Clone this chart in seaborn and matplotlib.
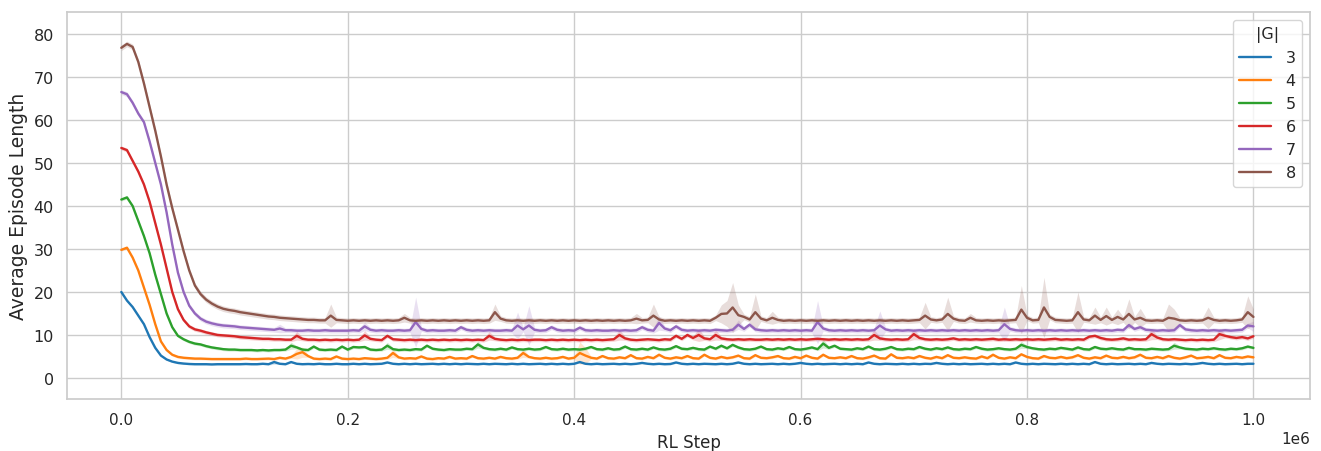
import numpy as np
import pandas as pd
import matplotlib
matplotlib.use("Agg")
import matplotlib.pyplot as plt
from matplotlib.lines import Line2D
import seaborn as sns

# RL training steps at which the episode length was logged
steps = np.arange(0, 1_000_001, 5000)

group_sizes = ["3", "4", "5", "6", "7", "8"]

# Mean episode length per goal-set size |G|
len_g3 = [
    20.0, 18.0, 16.5, 14.5, 12.5, 9.5, 7.0, 5.2, 4.3, 3.8, 3.5, 3.35, 3.25, 3.2, 3.2, 3.2, 3.15, 3.2, 3.2, 3.2,
    3.2, 3.2, 3.25, 3.2, 3.2, 3.3, 3.2, 3.7, 3.3, 3.2, 3.7, 3.3, 3.2, 3.25, 3.2, 3.3, 3.2, 3.2, 3.3, 3.2,
    3.2, 3.3, 3.2, 3.3, 3.2, 3.25, 3.3, 3.6, 3.3, 3.2, 3.3, 3.2, 3.3, 3.2, 3.25, 3.3, 3.2, 3.3, 3.2, 3.3,
    3.2, 3.3, 3.25, 3.2, 3.3, 3.2, 3.3, 3.25, 3.2, 3.3, 3.2, 3.3, 3.2, 3.25, 3.3, 3.2, 3.3, 3.2, 3.3, 3.2,
    3.3, 3.7, 3.3, 3.2, 3.3, 3.2, 3.25, 3.3, 3.2, 3.3, 3.2, 3.3, 3.5, 3.3, 3.2, 3.3, 3.2, 3.25, 3.6, 3.3,
    3.2, 3.3, 3.2, 3.3, 3.25, 3.2, 3.3, 3.2, 3.3, 3.6, 3.3, 3.2, 3.3, 3.2, 3.25, 3.3, 3.2, 3.3, 3.2, 3.3,
    3.5, 3.3, 3.2, 3.3, 3.2, 3.25, 3.3, 3.2, 3.3, 3.2, 3.3, 3.2, 3.6, 3.3, 3.2, 3.3, 3.25, 3.2, 3.3, 3.2,
    3.3, 3.2, 3.3, 3.25, 3.5, 3.3, 3.2, 3.3, 3.2, 3.3, 3.2, 3.25, 3.3, 3.2, 3.3, 3.2, 3.3, 3.2, 3.6, 3.3,
    3.2, 3.3, 3.2, 3.3, 3.25, 3.2, 3.3, 3.2, 3.3, 3.2, 3.3, 3.2, 3.7, 3.3, 3.2, 3.3, 3.2, 3.25, 3.3, 3.2,
    3.3, 3.2, 3.5, 3.3, 3.2, 3.3, 3.25, 3.2, 3.3, 3.2, 3.3, 3.5, 3.3, 3.2, 3.3, 3.2, 3.25, 3.3, 3.2, 3.3,
    3.3,
]
len_g4 = [
    29.8, 30.3, 28.0, 25.0, 21.0, 17.0, 12.5, 8.5, 6.5, 5.4, 4.9, 4.7, 4.6, 4.5, 4.5, 4.45, 4.4, 4.4, 4.4, 4.4,
    4.4, 4.4, 4.5, 4.4, 4.4, 4.45, 4.5, 4.4, 4.7, 4.5, 4.9, 5.6, 6.0, 5.1, 4.5, 4.4, 4.5, 4.4, 5.0, 4.5,
    4.4, 4.5, 4.4, 4.6, 4.5, 4.4, 4.5, 4.7, 5.8, 4.8, 4.5, 4.6, 4.5, 5.0, 4.5, 4.4, 4.6, 4.5, 4.9, 4.5,
    4.6, 4.5, 5.1, 4.6, 4.5, 4.7, 4.5, 4.9, 4.6, 4.5, 4.7, 5.8, 4.9, 4.6, 4.5, 4.7, 4.5, 4.6, 4.9, 4.5,
    4.7, 5.8, 5.2, 4.7, 4.5, 5.1, 4.6, 4.5, 4.8, 4.6, 5.3, 4.6, 4.5, 4.9, 4.6, 5.4, 4.7, 4.5, 4.8, 4.6,
    5.1, 4.6, 4.5, 5.4, 4.7, 4.5, 4.9, 4.6, 4.8, 5.2, 4.6, 4.5, 5.3, 4.7, 4.6, 4.8, 5.1, 4.6, 4.5, 4.9,
    4.6, 5.2, 4.7, 4.5, 5.4, 4.7, 4.6, 4.8, 4.6, 5.1, 4.6, 4.5, 4.8, 5.2, 4.6, 4.5, 5.5, 4.7, 4.6, 4.8,
    4.6, 5.1, 4.7, 4.5, 4.9, 4.6, 5.3, 4.7, 4.6, 4.8, 4.6, 4.5, 5.0, 4.6, 5.4, 4.7, 4.5, 4.8, 4.6, 5.5,
    4.9, 4.6, 4.5, 5.1, 4.7, 4.6, 4.9, 4.6, 4.8, 5.3, 4.7, 4.5, 4.8, 4.6, 5.2, 4.7, 4.6, 4.9, 4.6, 4.8,
    5.4, 4.7, 4.6, 4.9, 4.6, 5.1, 4.7, 4.5, 4.8, 5.2, 4.6, 4.7, 4.9, 4.6, 5.3, 4.7, 4.6, 4.9, 4.7, 5.0,
    4.8,
]
len_g5 = [
    41.5, 42.0, 40.0, 36.5, 33.0, 29.0, 24.0, 19.5, 15.0, 11.8, 9.8, 9.0, 8.4, 8.0, 7.8, 7.4, 7.1, 6.9, 6.7, 6.6,
    6.6, 6.5, 6.5, 6.5, 6.4, 6.5, 6.4, 6.5, 6.5, 6.6, 7.5, 7.1, 6.6, 6.5, 7.3, 6.6, 6.5, 6.6, 6.5, 7.3,
    6.6, 7.2, 7.1, 7.2, 6.6, 6.5, 6.6, 7.5, 6.7, 6.5, 6.6, 6.5, 6.7, 6.6, 7.5, 6.8, 6.6, 6.5, 6.7, 6.6,
    6.6, 6.8, 6.7, 7.8, 7.0, 6.7, 6.6, 6.8, 6.6, 7.1, 6.7, 6.6, 6.8, 6.6, 6.7, 7.2, 6.7, 6.6, 6.8, 6.6,
    6.7, 6.6, 6.8, 7.2, 6.7, 6.6, 6.9, 6.6, 6.7, 7.3, 6.7, 6.6, 6.8, 6.6, 7.1, 6.7, 6.6, 6.8, 7.4, 6.8,
    6.7, 7.0, 6.7, 6.6, 7.3, 6.8, 7.5, 6.9, 7.7, 7.1, 6.7, 6.6, 6.8, 7.3, 6.7, 6.6, 6.9, 6.7, 7.2, 6.7,
    6.6, 6.8, 7.1, 6.7, 8.0, 7.0, 7.5, 6.8, 6.7, 6.6, 6.9, 6.7, 7.3, 6.7, 6.6, 6.8, 7.2, 6.7, 6.6, 6.8,
    6.7, 7.2, 6.8, 6.6, 6.9, 6.7, 7.1, 6.7, 6.6, 6.8, 6.7, 7.2, 6.8, 6.6, 6.7, 6.9, 6.7, 6.6, 6.8, 7.7,
    7.2, 6.9, 6.7, 6.6, 6.8, 6.7, 7.0, 6.8, 6.6, 7.1, 6.7, 6.6, 7.2, 6.8, 6.7, 6.9, 6.7, 6.6, 7.0, 6.7,
    6.7, 6.6, 6.8, 6.7, 6.6, 6.7, 7.5, 7.1, 6.8, 6.7, 6.6, 6.8, 6.7, 6.9, 6.7, 6.6, 6.8, 6.7, 6.9, 7.3,
    7.0,
]
len_g6 = [
    53.5, 53.0, 50.5, 48.0, 45.0, 41.0, 36.0, 31.0, 25.5, 20.0, 16.0, 13.5, 12.0, 11.3, 11.0, 10.6, 10.3, 10.0, 9.9, 9.8,
    9.7, 9.5, 9.4, 9.3, 9.2, 9.1, 9.1, 9.0, 9.0, 8.9, 8.9, 9.8, 9.1, 8.9, 8.9, 8.8, 8.9, 8.8, 8.9, 8.8,
    8.9, 8.8, 8.9, 9.9, 9.1, 8.9, 8.8, 9.8, 9.0, 8.9, 8.8, 8.9, 8.8, 8.9, 8.8, 8.9, 8.8, 8.9, 8.8, 8.9,
    8.8, 8.9, 8.8, 8.9, 8.8, 9.8, 9.1, 8.9, 8.8, 8.9, 8.8, 8.9, 8.8, 8.9, 8.9, 8.8, 8.9, 8.8, 8.9, 8.8,
    8.9, 8.8, 8.9, 8.8, 8.9, 8.8, 8.9, 9.0, 10.0, 9.2, 8.9, 8.8, 8.9, 9.0, 8.9, 8.8, 9.0, 8.9, 9.8, 9.1,
    10.0, 9.3, 10.0, 9.2, 9.0, 10.0, 9.2, 9.0, 8.9, 9.0, 8.9, 9.0, 8.9, 8.9, 9.0, 8.9, 9.0, 8.9, 9.0, 8.9,
    9.0, 8.9, 9.0, 9.1, 9.0, 8.9, 9.0, 8.9, 9.0, 8.9, 9.0, 8.9, 9.0, 10.0, 9.2, 9.0, 8.9, 9.0, 8.9, 9.0,
    10.2, 9.3, 9.0, 8.9, 9.0, 8.9, 9.0, 9.2, 8.9, 9.0, 8.9, 9.0, 8.9, 9.0, 9.1, 8.9, 9.0, 8.9, 9.0, 8.9,
    9.0, 8.9, 9.0, 8.9, 9.0, 9.1, 8.9, 9.0, 8.9, 9.0, 8.9, 9.6, 9.8, 9.3, 9.0, 8.9, 9.0, 9.2, 8.9, 9.0,
    8.9, 9.0, 10.2, 9.4, 9.0, 8.9, 9.0, 8.9, 8.8, 8.9, 8.8, 8.9, 8.8, 8.9, 10.2, 9.8, 9.5, 9.3, 9.5, 9.2,
    9.7,
]
len_g7 = [
    66.5, 66.0, 64.0, 61.5, 59.5, 55.0, 50.0, 45.0, 38.5, 31.0, 24.5, 20.0, 16.8, 15.0, 13.8, 13.1, 12.7, 12.4, 12.2, 12.1,
    12.0, 11.8, 11.7, 11.6, 11.5, 11.4, 11.3, 11.2, 11.5, 11.1, 11.1, 11.0, 11.0, 11.1, 11.0, 11.0, 11.1, 11.0, 11.0, 11.0,
    11.0, 11.1, 11.0, 12.0, 11.2, 11.0, 11.1, 11.0, 11.0, 11.1, 11.0, 11.1, 13.0, 11.4, 11.0, 11.1, 11.0, 11.0, 11.1, 11.0,
    11.8, 11.2, 11.0, 11.1, 11.0, 11.1, 11.0, 11.0, 11.1, 11.0, 12.2, 11.3, 12.2, 11.2, 11.0, 11.1, 11.8, 11.2, 11.0, 11.1,
    11.0, 11.7, 11.1, 11.0, 11.1, 11.0, 11.0, 11.1, 11.0, 11.1, 11.0, 11.1, 11.8, 11.2, 11.0, 12.8, 11.5, 11.1, 12.0, 11.2,
    11.0, 11.1, 11.0, 11.1, 11.0, 11.2, 11.1, 11.0, 11.2, 12.4, 11.4, 12.4, 11.3, 11.1, 11.0, 11.1, 11.0, 11.1, 11.0, 11.1,
    11.0, 11.1, 11.0, 13.0, 11.5, 11.1, 11.0, 11.1, 11.0, 11.1, 11.0, 11.1, 11.0, 11.1, 12.2, 11.3, 11.0, 11.1, 11.0, 11.1,
    11.0, 11.1, 11.0, 11.1, 11.0, 11.1, 11.0, 11.1, 11.0, 11.1, 11.0, 11.1, 11.0, 11.1, 11.0, 11.1, 12.5, 11.4, 11.1, 11.0,
    11.1, 11.0, 11.1, 11.0, 11.1, 11.0, 11.1, 11.0, 11.1, 11.0, 11.1, 11.0, 11.1, 11.0, 11.1, 11.0, 11.2, 11.1, 12.3, 11.4,
    11.8, 11.2, 11.1, 11.0, 11.1, 11.0, 11.1, 12.3, 11.3, 11.1, 11.0, 11.1, 11.0, 11.1, 11.0, 11.1, 11.0, 11.1, 11.2, 12.2,
    12.0,
]
len_g8 = [
    76.8, 77.7, 77.0, 73.5, 68.5, 63.0, 57.5, 51.5, 45.0, 39.5, 34.5, 29.5, 25.0, 21.5, 19.5, 18.2, 17.3, 16.6, 16.1, 15.8,
    15.6, 15.3, 15.1, 14.9, 14.7, 14.5, 14.3, 14.2, 14.0, 13.9, 13.8, 13.7, 13.6, 13.5, 13.5, 13.4, 13.4, 14.5, 13.5, 13.4,
    13.3, 13.4, 13.3, 13.4, 13.3, 13.4, 13.3, 13.4, 13.3, 13.4, 14.0, 13.4, 13.3, 13.4, 13.3, 13.4, 13.3, 13.4, 13.3, 13.4,
    13.3, 13.4, 13.3, 13.4, 13.3, 13.4, 15.3, 13.8, 13.4, 13.3, 13.4, 13.3, 13.4, 13.3, 13.4, 13.3, 13.4, 13.3, 13.4, 13.3,
    13.4, 13.3, 13.4, 13.3, 13.4, 13.3, 13.4, 13.3, 13.4, 13.3, 13.4, 13.8, 13.4, 13.5, 14.5, 13.6, 13.3, 13.4, 13.3, 13.4,
    13.3, 13.4, 13.3, 13.4, 13.3, 14.0, 14.9, 15.0, 16.4, 14.6, 14.2, 13.6, 15.3, 13.8, 13.4, 14.0, 13.5, 13.3, 13.4, 13.3,
    13.4, 13.3, 13.4, 13.3, 13.4, 13.3, 13.4, 13.3, 13.4, 13.3, 13.4, 13.3, 13.4, 13.3, 13.4, 13.3, 13.4, 13.3, 13.4, 13.3,
    13.4, 13.5, 14.5, 13.6, 13.4, 13.6, 14.9, 13.8, 13.4, 13.3, 14.0, 13.4, 13.3, 13.4, 13.3, 13.4, 13.3, 13.4, 13.5, 15.9,
    14.0, 13.4, 13.5, 16.4, 14.2, 13.5, 13.4, 13.3, 13.4, 15.3, 13.6, 13.4, 14.5, 13.5, 14.4, 13.5, 14.2, 13.6, 14.9, 13.6,
    14.0, 13.4, 13.3, 13.4, 13.3, 14.0, 13.8, 13.4, 13.3, 13.4, 13.3, 13.4, 14.0, 13.5, 13.3, 13.4, 13.3, 13.4, 13.6, 15.3,
    14.2,
]

# Typical half-width of the confidence band for each |G|
base_spread = [0.2, 0.3, 0.35, 0.45, 0.55, 0.65]

# Upper edge of the confidence band at steps where runs disagree strongly
band_top_g3 = {135000: 4.2}
band_top_g4 = {155000: 6.8, 160000: 7.2, 240000: 6.8, 355000: 6.8, 405000: 8.4, 410000: 7.0}
band_top_g5 = {150000: 8.3, 235000: 8.3, 315000: 8.6, 620000: 9.0, 795000: 8.5, 930000: 8.3}
band_top_g6 = {155000: 10.8, 215000: 11.0, 325000: 10.8, 440000: 11.2, 510000: 11.5,
               525000: 11.2, 665000: 11.2, 700000: 11.5, 910000: 11.5, 970000: 11.5}
band_top_g7 = {140000: 12.5, 215000: 13.0, 260000: 18.8, 350000: 15.3, 360000: 16.8,
               475000: 14.5, 545000: 13.5, 615000: 18.0, 670000: 15.6, 780000: 16.5, 1000000: 13.2}
band_top_g8 = {185000: 17.2, 250000: 15.0, 330000: 17.2, 455000: 15.0, 470000: 17.2,
               530000: 17.0, 535000: 18.0, 540000: 22.2, 545000: 17.0, 560000: 19.5, 575000: 15.5,
               710000: 17.6, 730000: 18.8, 750000: 15.0, 795000: 21.5, 815000: 23.4, 845000: 20.0,
               860000: 16.5, 870000: 16.5, 880000: 16.0, 890000: 18.4, 900000: 16.2, 925000: 17.2,
               930000: 16.0, 960000: 16.5, 995000: 19.1, 1000000: 16.0}

means = [len_g3, len_g4, len_g5, len_g6, len_g7, len_g8]
band_tops = [band_top_g3, band_top_g4, band_top_g5, band_top_g6, band_top_g7, band_top_g8]

df = pd.concat(
    [pd.DataFrame({"RL Step": steps, "Average Episode Length": m, "|G|": g})
     for g, m in zip(group_sizes, means)],
    ignore_index=True,
)

sns.set_theme(style="whitegrid")
palette = sns.color_palette("tab10", len(group_sizes))

fig = plt.figure(figsize=(13.21, 4.52), dpi=100)
ax = fig.add_axes([0.0507, 0.115, 0.941, 0.856])

sns.lineplot(data=df, x="RL Step", y="Average Episode Length", hue="|G|",
             hue_order=group_sizes, palette=palette, errorbar=None,
             linewidth=1.7, legend=False, ax=ax)

# Confidence bands around each mean curve
for g, m, spread, tops, color in zip(group_sizes, means, base_spread, band_tops, palette):
    m = np.asarray(m, dtype=float)
    upper = m + spread
    for s, top in tops.items():
        idx = int(np.searchsorted(steps, s))
        upper[idx] = max(upper[idx], top)
    lower = m - (upper - m)
    ax.fill_between(steps, lower, upper, color=color, alpha=0.2, linewidth=0)

ax.set_xlim(-48000, 1050000)
ax.set_ylim(-4.9, 85.1)
ax.set_yticks(np.arange(0, 81, 10))
ax.set_xticks(np.arange(0, 1_000_001, 200000))
ax.set_xlabel("RL Step", fontsize=12)
ax.set_ylabel("Average Episode Length", fontsize=13.5)
ax.tick_params(axis="y", labelsize=11.5)

handles = [Line2D([], [], color=c, linewidth=1.7) for c in palette]
ax.legend(handles, group_sizes, title="|G|", loc="upper right",
          fontsize=11.5, title_fontsize=11.5, handlelength=2.0,
          handletextpad=0.9, borderaxespad=0.5)

fig.savefig("out.png", dpi=100)
